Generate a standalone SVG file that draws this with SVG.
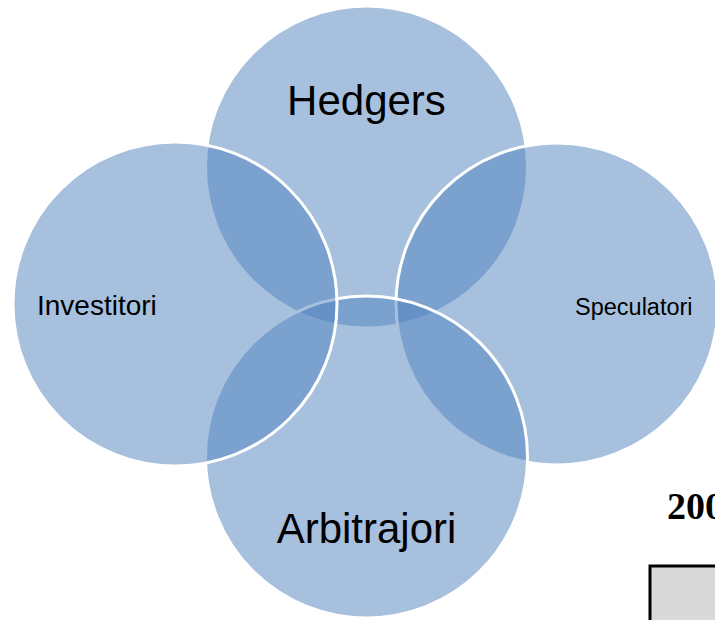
<svg xmlns="http://www.w3.org/2000/svg" width="715" height="620" viewBox="0 0 715 620">
<style>
.c{fill:#4F81BD;fill-opacity:0.5;stroke:#FFFFFF;stroke-width:3}
.t{font-family:"Liberation Sans",Arial,sans-serif;fill:#000}
</style>
<rect x="0" y="0" width="715" height="620" fill="#FFFFFF"/>
<g id="hedgers"><circle class="c" cx="366.5" cy="167" r="161"/></g>
<g id="speculatori"><circle class="c" cx="557" cy="304" r="161"/></g>
<g id="arbitrajori"><circle class="c" cx="366.5" cy="457" r="161"/></g>
<g id="investitori"><circle class="c" cx="175" cy="304" r="162"/></g>
<g id="labels">
<text class="t" x="366.5" y="115" font-size="42" text-anchor="middle">Hedgers</text>
<text class="t" x="366.5" y="543" font-size="42" text-anchor="middle">Arbitrajori</text>
<text class="t" x="37" y="315" font-size="28">Investitori</text>
<text class="t" x="575" y="315" font-size="23.5">Speculatori</text>
</g>
<g id="connectors"></g>
<g id="fragment">
<text x="667" y="519" font-family="'Liberation Serif','Times New Roman',serif" font-weight="bold" font-size="38">200</text>
<rect x="650" y="566" width="80" height="70" fill="#D9D9D9" stroke="#000" stroke-width="3"/>
</g>
</svg>
